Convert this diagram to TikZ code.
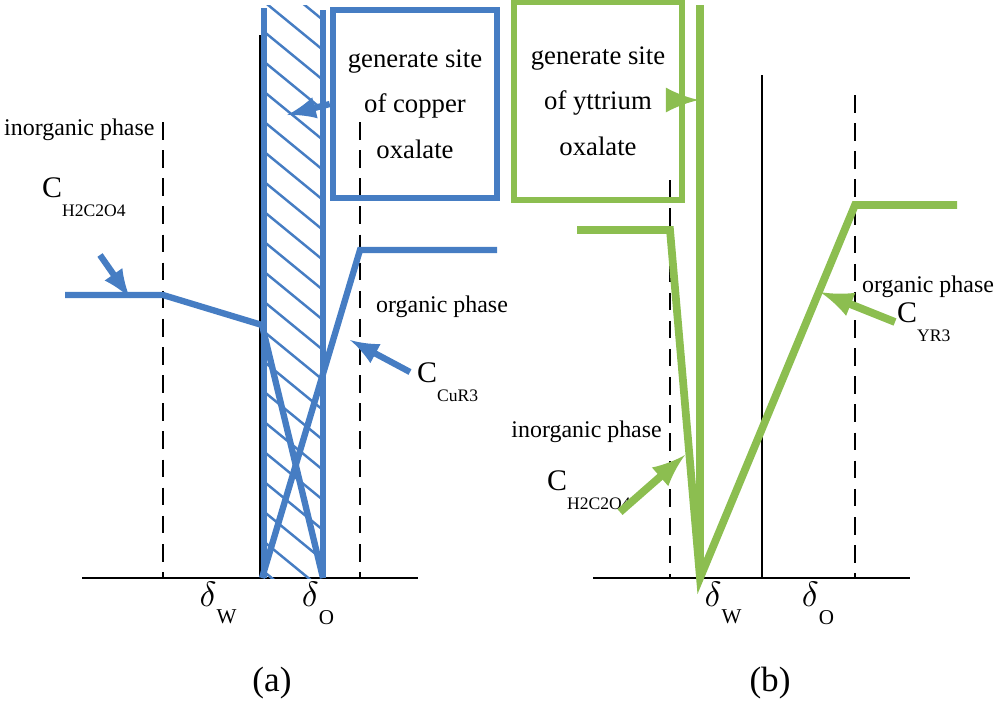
\documentclass[tikz,border=0pt]{standalone}
\usepackage{fontspec}
\setmainfont{Liberation Serif}
\usepackage{tikz}
\usetikzlibrary{positioning}
\definecolor{cublue}{RGB}{70,125,195}
\definecolor{ygreen}{RGB}{140,190,80}
\tikzset{
  blueline/.style={cublue, line width=1.8pt},
  greenline/.style={ygreen, line width=2.2pt},
  dashline/.style={black, dash pattern=on 5pt off 3pt, line width=0.6pt},
  lbl/.style={font=\fontsize{6.8}{9}\selectfont, inner sep=1pt},
  clbl/.style={font=\fontsize{8.5}{9}\selectfont, inner sep=1pt},
  dlbl/.style={font=\fontsize{10}{10}\selectfont},
  sitebox/.style={draw, line width=1.8pt, align=center, font=\fontsize{7.6}{13}\selectfont, minimum width=1.64cm, minimum height=1.88cm}
}
\begin{document}
\begin{tikzpicture}[yscale=-1, x=0.01cm, y=0.01cm]
\useasboundingbox (0,0) rectangle (1000,708);
% (a) copper
\draw[line width=0.7pt] (82,578) -- (418,578);
\draw[dashline] (163,122) -- (163,578);
\draw[dashline] (360,122) -- (360,578);
\begin{scope}
\clip (262,5) rectangle (323,578);
\foreach \k in {0,...,22}
  \draw[cublue, line width=0.7pt] (262,-60+30*\k) -- (323,-10+30*\k);
\end{scope}
\draw[line width=0.7pt] (260,35) -- (260,578);
\draw[blueline] (264,8) -- (264,578);
\draw[blueline] (323,10) -- (323,578);
\draw[blueline] (65,295) -- (163,295) -- (262,325) -- (323,578);
\draw[blueline] (262,578) -- (360,250) -- (497,250);
\node[sitebox, cublue, text=black] (cubox) at (415,104) {generate site\\of copper\\oxalate};
\draw[blueline, -latex] (cubox.west) -- (287,115);
\node[lbl, anchor=west] (inorga) at (0,130) {inorganic phase};
\node[lbl, anchor=west] (orga) at (372,307) {organic phase};
\node[clbl, anchor=west] (oxa) at (38,197) {C\raisebox{-1.4ex}{\fontsize{5}{5}\selectfont H2C2O4}};
\draw[blueline, -latex] (100,255) -- (130,298);
\node[clbl, anchor=west] (cur) at (413,382) {C\raisebox{-1.4ex}{\fontsize{5}{5}\selectfont CuR3}};
\draw[blueline, -latex] (410,372) -- (350,340);
\node[dlbl] (dwa) at (218,603) {$\mathrm{\delta}$\raisebox{-1.1ex}{\fontsize{6}{6}\selectfont W}};
\node[dlbl] (doa) at (318,603) {$\mathrm{\delta}$\raisebox{-1.1ex}{\fontsize{6}{6}\selectfont O}};
\node[dlbl] (capa) at (272,683) {(a)};
% (b) yttrium
\draw[line width=0.7pt] (593,578) -- (910,578);
\draw[dashline] (670,180) -- (670,578);
\draw[dashline] (855,95) -- (855,578);
\draw[line width=0.7pt] (762,75) -- (762,578);
\draw[greenline] (700,5) -- (700,578);
\draw[greenline] (577,230) -- (670,230) -- (700,578) -- (855,205) -- (957,205);
\node[sitebox, ygreen, text=black, minimum width=1.68cm, minimum height=1.98cm] (ybox) at (598,101) {generate site\\of yttrium\\oxalate};
\draw[greenline, -latex] (ybox.east |- 0,100) -- (699,100);
\node[lbl, anchor=west] (orgb) at (858,287) {organic phase};
\node[lbl, anchor=east] (inorgb) at (666,432) {inorganic phase};
\node[clbl, anchor=west] (yr) at (893,322) {C\raisebox{-1.4ex}{\fontsize{5}{5}\selectfont YR3}};
\draw[greenline, -latex] (895,322) -- (820,292);
\node[clbl, anchor=west] (oxb) at (543,490) {C\raisebox{-1.4ex}{\fontsize{5}{5}\selectfont H2C2O4}};
\draw[greenline, -latex] (620,512) -- (685,455);
\node[dlbl] (dwb) at (723,603) {$\mathrm{\delta}$\raisebox{-1.1ex}{\fontsize{6}{6}\selectfont W}};
\node[dlbl] (dob) at (818,603) {$\mathrm{\delta}$\raisebox{-1.1ex}{\fontsize{6}{6}\selectfont O}};
\node[dlbl] (capb) at (770,683) {(b)};
\end{tikzpicture}
\end{document}
